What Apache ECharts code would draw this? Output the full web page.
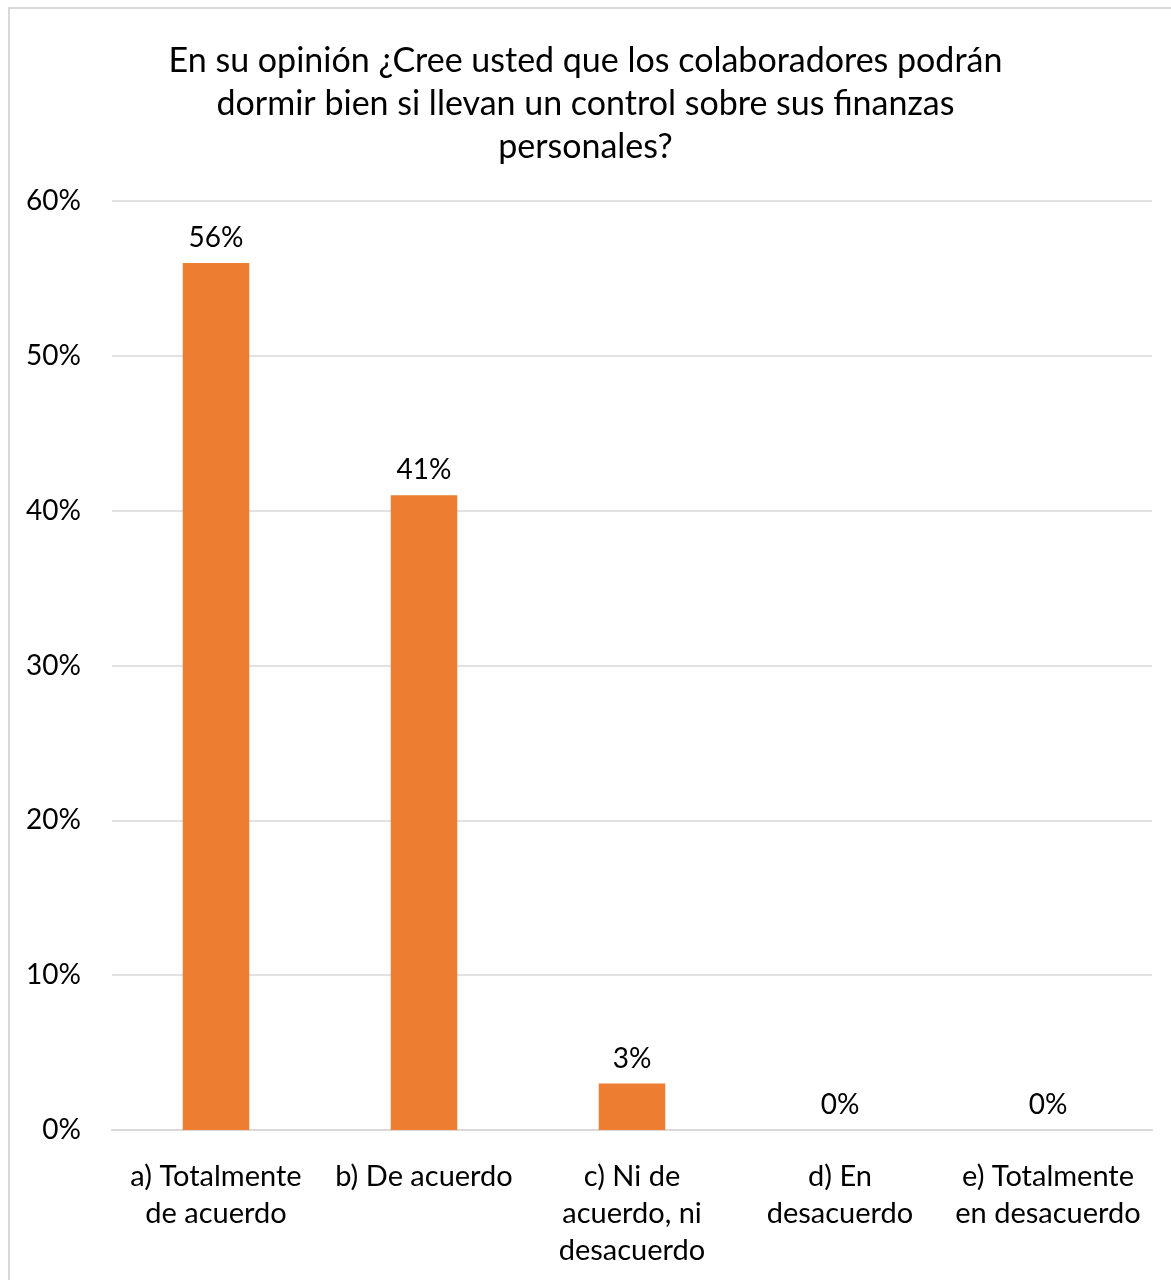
<!DOCTYPE html>
<html>
<head>
<meta charset="utf-8">
<script src="https://cdn.jsdelivr.net/npm/echarts@6/dist/echarts.min.js"></script>
<style>
  html, body { margin: 0; padding: 0; background: #ffffff; }
  #frame {
    position: absolute; left: 8px; top: 7px; width: 1170px; height: 1290px;
    border: 2px solid #d9d9d9; box-sizing: border-box;
  }
  #chart { position: absolute; left: 0; top: 0; width: 1171px; height: 1280px; }
</style>
</head>
<body>
<div id="frame"></div>
<div id="chart"></div>
<script>
// Survey answers and their share of respondents (%)
const titleText = 'En su opinión ¿Cree usted que los colaboradores podrán\ndormir bien si llevan un control sobre sus finanzas\npersonales?';
const categories = [
  'a) Totalmente\nde acuerdo',
  'b) De acuerdo',
  'c) Ni de\nacuerdo, ni\ndesacuerdo',
  'd) En\ndesacuerdo',
  'e) Totalmente\nen desacuerdo'
];
const shares = [56, 41, 3, 0, 0];
const yTicks = { min: 0, max: 60, interval: 10 };

const fontFamily = 'Lato, "Open Sans", sans-serif';
const chart = echarts.init(document.getElementById('chart'), null, { renderer: 'canvas' });
chart.setOption({
  backgroundColor: 'transparent',
  animation: false,
  title: {
    text: titleText,
    left: 'center',
    top: 35,
    textStyle: { fontFamily, fontSize: 34, fontWeight: 'normal', color: '#000', lineHeight: 43 }
  },
  grid: { left: 112, right: 19, top: 201, bottom: 150 },
  xAxis: {
    type: 'category',
    data: categories,
    axisLine: { lineStyle: { color: '#d9d9d9', width: 2 } },
    axisTick: { show: false },
    axisLabel: {
      interval: 0, margin: 28, color: '#000', fontFamily, fontSize: 29, lineHeight: 37,
      align: 'center', verticalAlign: 'top'
    }
  },
  yAxis: {
    type: 'value',
    min: yTicks.min, max: yTicks.max, interval: yTicks.interval,
    axisLine: { show: false },
    axisTick: { show: false },
    splitLine: { lineStyle: { color: '#d9d9d9', width: 1.5 } },
    axisLabel: { formatter: '{value}%', margin: 31, color: '#000', fontFamily, fontSize: 28 }
  },
  series: [{
    type: 'bar',
    data: shares,
    barWidth: '32%',
    itemStyle: { color: '#ed7d31' },
    label: {
      show: true, position: 'top', distance: 11, formatter: '{c}%',
      color: '#000', fontFamily, fontSize: 28
    }
  }]
});
</script>
</body>
</html>
